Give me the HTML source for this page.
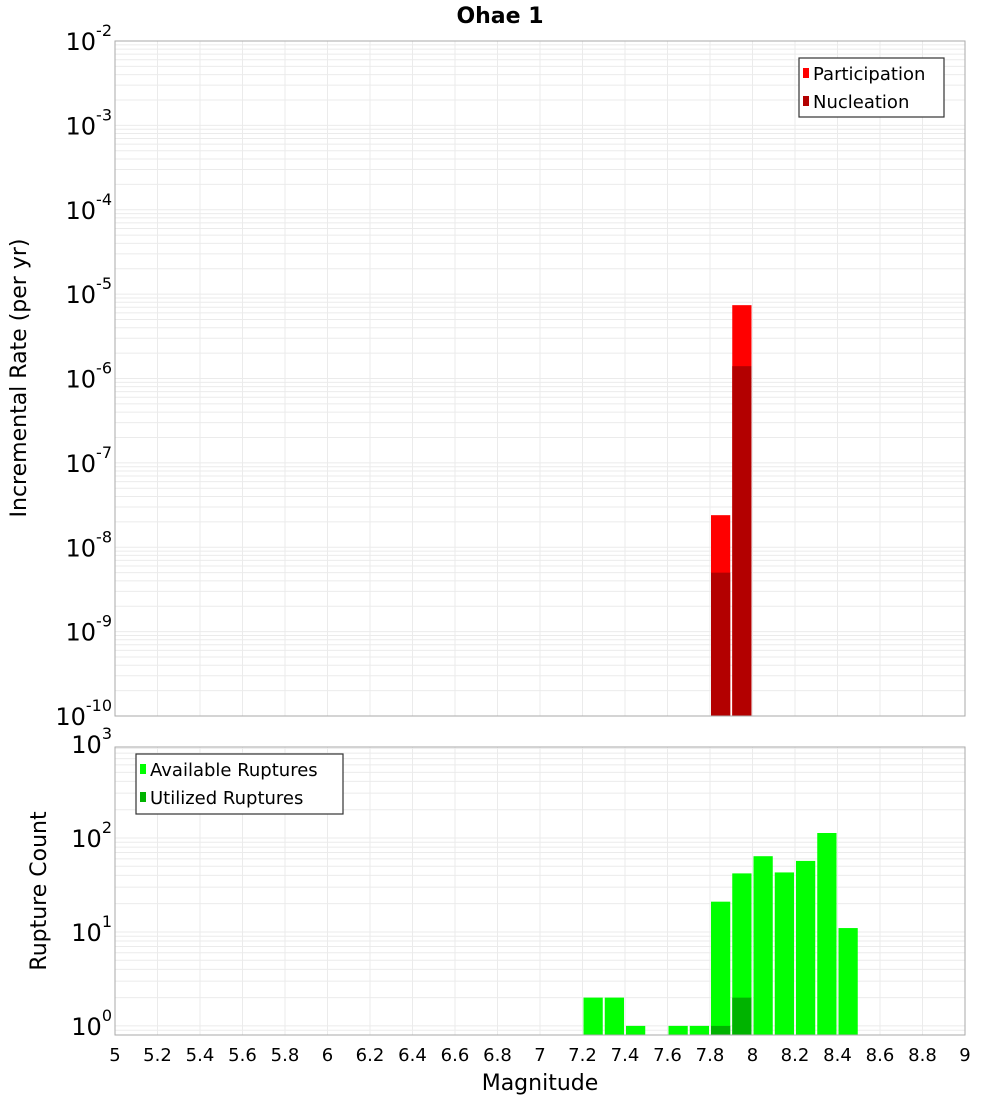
<!DOCTYPE html>
<html><head><meta charset="utf-8"><style>
body{margin:0;background:#fff;}
svg text{font-family:"DejaVu Sans","Liberation Sans",sans-serif;}
</style></head><body>
<svg id="c" width="1000" height="1100" xmlns="http://www.w3.org/2000/svg"></svg>
<script>
const binCenters = [7.85, 7.95];
const participation = [2.4e-8, 7.4e-6];
const nucleation = [5.0e-9, 1.4e-6];
const countCenters = [7.25, 7.35, 7.45, 7.65, 7.75, 7.85, 7.95, 8.05, 8.15, 8.25, 8.35, 8.45];
const available = [2, 2, 1, 1, 1, 21, 42, 64, 43, 57, 113, 11];
const utilizedCenters = [7.85, 7.95];
const utilized = [1, 2];
const xTicks = [5,5.2,5.4,5.6,5.8,6,6.2,6.4,6.6,6.8,7,7.2,7.4,7.6,7.8,8,8.2,8.4,8.6,8.8,9];
const xTickLabels = ["5","5.2","5.4","5.6","5.8","6","6.2","6.4","6.6","6.8","7","7.2","7.4","7.6","7.8","8","8.2","8.4","8.6","8.8","9"];
const topExps = [-2,-3,-4,-5,-6,-7,-8,-9,-10];
const botExps = [0,1,2,3];

const NS="http://www.w3.org/2000/svg";
const svg=document.getElementById('c');
function el(tag,attrs,parent){const e=document.createElementNS(NS,tag);for(const k in attrs)e.setAttribute(k,attrs[k]);(parent||svg).appendChild(e);return e;}
const L=115,R=965;
const x=m=>L+(m-5)/4*(R-L);
const T1=41,B1=716;
const y1=v=>T1+(-2-Math.log10(v))/8*(B1-T1);
const T2=747,B2=1035;
const bMin=Math.log10(0.8), bMax=Math.log10(930);
const y2=v=>B2-(Math.log10(v)-bMin)/(bMax-bMin)*(B2-T2);
const bw=(R-L)/40;

function grid(T,B,yf,lo,hi){
  const g=el('g',{});
  
  
  xTicks.forEach(t=>el('line',{x1:x(t),x2:x(t),y1:T,y2:B,stroke:'#ebebeb','stroke-width':1},g));
  for(let e=lo;e<=hi;e++)for(let k=1;k<10;k++){const v=k*Math.pow(10,e);const yy=yf(v);if(yy>=T&&yy<=B)el('line',{x1:L,x2:R,y1:yy,y2:yy,stroke:'#ebebeb','stroke-width':1},g);}
}
grid(T1,B1,y1,-10,-3);
grid(T2,B2,y2,-1,2);

// top bars
binCenters.forEach((m,i)=>{
  const r=el('rect',{x:x(m-0.05)+1,y:y1(participation[i]),width:bw-2,height:B1-y1(participation[i]),fill:'#ff0000'});
  
  
  const n=el('rect',{x:x(m-0.05)+1,y:y1(nucleation[i]),width:bw-2,height:B1-y1(nucleation[i]),fill:'#b30000'});
  
  
});
// bottom bars
countCenters.forEach((m,i)=>{
  const r=el('rect',{x:x(m-0.05)+1,y:y2(available[i]),width:bw-2,height:B2-y2(available[i]),fill:'#00ff00'});
  
  
});
utilizedCenters.forEach((m,i)=>{
  const r=el('rect',{x:x(m-0.05)+1,y:y2(utilized[i]),width:bw-2,height:B2-y2(utilized[i]),fill:'#00b300'});
  
  
});

// frames
el('rect',{x:L,y:T1,width:R-L,height:B1-T1,fill:'none',stroke:'#aaa'});
el('rect',{x:L,y:T2,width:R-L,height:B2-T2,fill:'none',stroke:'#aaa'});

// y tick labels
function ylab(e,yy){
  const t=el('text',{x:112,y:yy+9,'font-size':24,'text-anchor':'end',fill:'#000'});
  
  
  const a=el('tspan',{},t);a.textContent='10';
  const b=el('tspan',{dy:-14,'font-size':16},t);b.textContent=String(e);
  // shift: end-anchor includes superscript; place base so "10" ends near axis
}
topExps.forEach(e=>ylab(e,y1(Math.pow(10,e))));
botExps.forEach(e=>ylab(e,y2(Math.pow(10,e))));

// x tick labels
xTicks.forEach((t,i)=>{
  const tx=el('text',{x:x(t),y:1061,'font-size':18,'text-anchor':'middle',fill:'#000'});
  tx.textContent=xTickLabels[i];
  
  
});

function txt(s,attrs,name){const t=el('text',attrs);t.textContent=s;return t;}
txt('Ohae 1',{x:500,y:23,'font-size':22,'font-weight':'bold','text-anchor':'middle'},'chart-title');
txt('Magnitude',{x:540,y:1090,'font-size':22,'text-anchor':'middle'},'x-axis-title');
txt('Incremental Rate (per yr)',{x:0,y:0,'font-size':22,'text-anchor':'middle',transform:'translate(26,378) rotate(-90)'},'top-y-axis-title');
txt('Rupture Count',{x:0,y:0,'font-size':22,'text-anchor':'middle',transform:'translate(46,891) rotate(-90)'},'bottom-y-axis-title');

// legends
function legend(x0,y0,w,h,items,name){
  const g=el('g',{});
  el('rect',{x:x0,y:y0,width:w,height:h,fill:'#fff',stroke:'#333','stroke-width':1.2},g);
  items.forEach((it,i)=>{
    el('rect',{x:x0+4,y:y0+10+i*28,width:6,height:10,fill:it[1]},g);
    const t=el('text',{x:x0+14,y:y0+22+i*28,'font-size':18},g);t.textContent=it[0];
  });
}
legend(799,58,145,59,[['Participation','#ff0000'],['Nucleation','#b30000']],'rate-legend');
legend(136,754,207,60,[['Available Ruptures','#00ff00'],['Utilized Ruptures','#00b300']],'count-legend');
</script>
</body></html>
